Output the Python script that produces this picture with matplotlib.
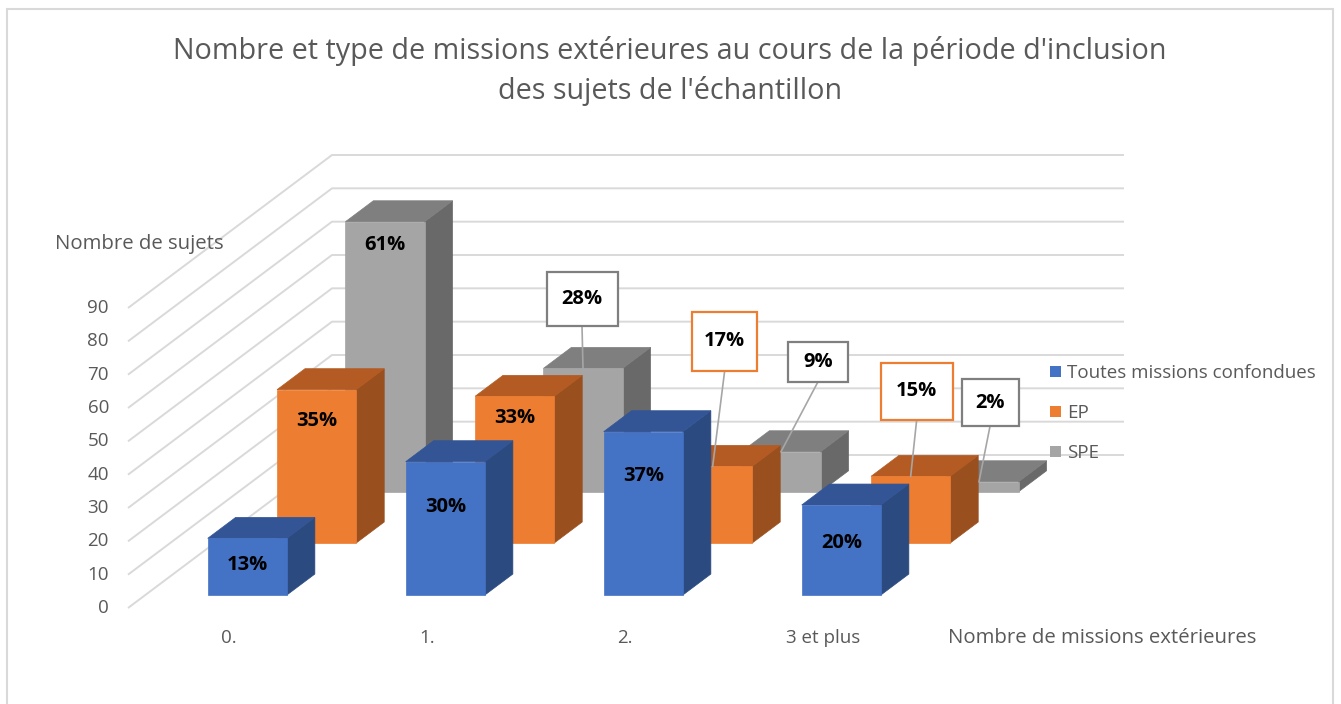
import matplotlib
matplotlib.use("Agg")
import matplotlib.pyplot as plt
from matplotlib.patches import Polygon, Rectangle, Patch

# data (nombre de sujets, N = 133 par série)
categories = ["0.", "1.", "2.", "3 et plus"]
series_names = ["Toutes missions confondues", "EP", "SPE"]
toutes = [17, 40, 49, 27]
ep = [46, 44, 23, 20]
spe = [81, 37, 12, 3]
y_ticks = list(range(0, 100, 10))

series = [toutes, ep, spe]

# colours: front / top / side for each series
COLORS = [
    ("#4472C4", "#335596", "#2B4A80"),
    ("#ED7D31", "#B45B23", "#9A4F1E"),
    ("#A5A5A5", "#7F7F7F", "#696969"),
]
BOX_EDGE = ["#4472C4", "#ED7D31", "#7F7F7F"]
TXT = "#595959"

# layout of the fake 3D (oblique) projection, in pixels
W, H = 1341, 704
X0, Y0 = 128, 608          # floor front-left corner, value 0
CAT_PX = 198               # width of one category
VAL_PX = 300 / 90          # pixels per subject
DEPTH_PX = (204, 153)      # full depth offset of the floor
DX = DEPTH_PX[0] / CAT_PX
DY = DEPTH_PX[1] / VAL_PX

ROW_DEPTH = [0.085, 0.425, 0.76]
BAR_DEPTH = 0.137
BAR_W = 0.40
BAR_C = 0.515

# labels inside bars: drop below the top, in px (None -> callout)
INSIDE_DROP = [[27, 45, 44, 38], [31, 22, None, None], [23, None, None, None]]
# callouts: (series, cat) -> (dx px, up px, box w px, box h px)
CALLOUTS = {
    (2, 1): (-1, 69, 71, 54),
    (1, 2): (12, 125, 65, 59),
    (2, 2): (37, 90, 60, 40),
    (1, 3): (6, 85, 72, 57),
    (2, 3): (11, 79, 57, 47),
}

plt.rcParams["font.family"] = ["Open Sans", "DejaVu Sans"]
AX_FS = 13.5
TITLE_FS = 14.7
LBL_FS = 14.5


def proj(x, d, v):
    return x + d * DX, v + d * DY


fig = plt.figure(figsize=(W / 100, H / 100), dpi=100)
ax = fig.add_axes([0, 0, 1, 1])
ax.set_xlim(-X0 / CAT_PX, (W - X0) / CAT_PX)
ax.set_ylim((Y0 - H) / VAL_PX, Y0 / VAL_PX)
ax.axis("off")

# walls gridlines + value labels
n = len(categories)
for v in y_ticks:
    pts = [proj(0, 0, v), proj(0, 1, v), proj(n, 1, v)]
    ax.plot([p[0] for p in pts], [p[1] for p in pts], color="#D9D9D9",
            lw=1.4, zorder=1, solid_capstyle="butt")
    ax.text(-19 / CAT_PX, v, str(v), ha="right", va="center",
            fontsize=AX_FS, color=TXT)

# bars, back row first
for s in [2, 1, 0]:
    front, top, side = COLORS[s]
    d0 = ROW_DEPTH[s]
    d1 = d0 + BAR_DEPTH
    for i, v in enumerate(series[s]):
        xa = i + BAR_C - BAR_W / 2
        xb = i + BAR_C + BAR_W / 2
        faces = [
            ([proj(xb, d0, 0), proj(xb, d1, 0), proj(xb, d1, v), proj(xb, d0, v)], side),
            ([proj(xa, d0, v), proj(xb, d0, v), proj(xb, d1, v), proj(xa, d1, v)], top),
            ([proj(xa, d0, 0), proj(xb, d0, 0), proj(xb, d0, v), proj(xa, d0, v)], front),
        ]
        for pts, c in faces:
            ax.add_patch(Polygon(pts, closed=True, facecolor=c, edgecolor=c,
                                 lw=0.5, zorder=2))

# data labels
for s in range(3):
    total = sum(series[s])
    for i, v in enumerate(series[s]):
        txt = f"{round(100 * v / total)}%"
        cx, cy = proj(i + BAR_C, ROW_DEPTH[s], v)
        drop = INSIDE_DROP[s][i]
        if drop is not None:
            ax.text(cx, cy - drop / VAL_PX, txt, ha="center", va="center",
                    fontsize=LBL_FS, fontweight="bold", color="black", zorder=5)
        else:
            dx, up, bw, bh = CALLOUTS[(s, i)]
            bx = cx + dx / CAT_PX
            by = cy + up / VAL_PX
            ax.plot([bx, cx], [by - bh / 2 / VAL_PX, cy], color="#A6A6A6",
                    lw=1.2, zorder=4)
            ax.add_patch(Rectangle((bx - bw / 2 / CAT_PX, by - bh / 2 / VAL_PX),
                                   bw / CAT_PX, bh / VAL_PX, facecolor="white",
                                   edgecolor=BOX_EDGE[s], lw=1.6, zorder=5))
            ax.text(bx, by, txt, ha="center", va="center", fontsize=LBL_FS,
                    fontweight="bold", color="black", zorder=6)

# category labels
for i, c in enumerate(categories):
    ax.text(i + 0.51, (Y0 - 638) / VAL_PX, c, ha="center", va="center",
            fontsize=AX_FS, color=TXT)

fig.text(948 / W, 1 - 638 / H, "Nombre de missions extérieures", ha="left",
         va="center", fontsize=TITLE_FS, color=TXT)
fig.text(55 / W, 1 - 244 / H, "Nombre de sujets", ha="left", va="center",
         fontsize=TITLE_FS, color=TXT)
fig.text(670 / W, 1 - 71 / H,
         "Nombre et type de missions extérieures au cours de la période d'inclusion\n"
         "des sujets de l'échantillon",
         ha="center", va="center", fontsize=20.7, color=TXT, linespacing=1.42)

# legend
handles = [Patch(facecolor=COLORS[s][0], edgecolor="none") for s in range(3)]
fig.legend(handles, series_names, loc="center left",
           bbox_to_anchor=(1041 / W, 1 - 413 / H), frameon=False,
           fontsize=AX_FS, labelcolor=TXT, handlelength=0.55, handleheight=0.55,
           handletextpad=0.35, labelspacing=1.17, borderpad=0)

# chart border
fig.patches.append(Rectangle((7 / W, -0.01), (1333 - 7) / W, 1 - 9 / H + 0.01,
                             transform=fig.transFigure, fill=False,
                             edgecolor="#D9D9D9", lw=1.5))

fig.savefig("out.png", dpi=100)
